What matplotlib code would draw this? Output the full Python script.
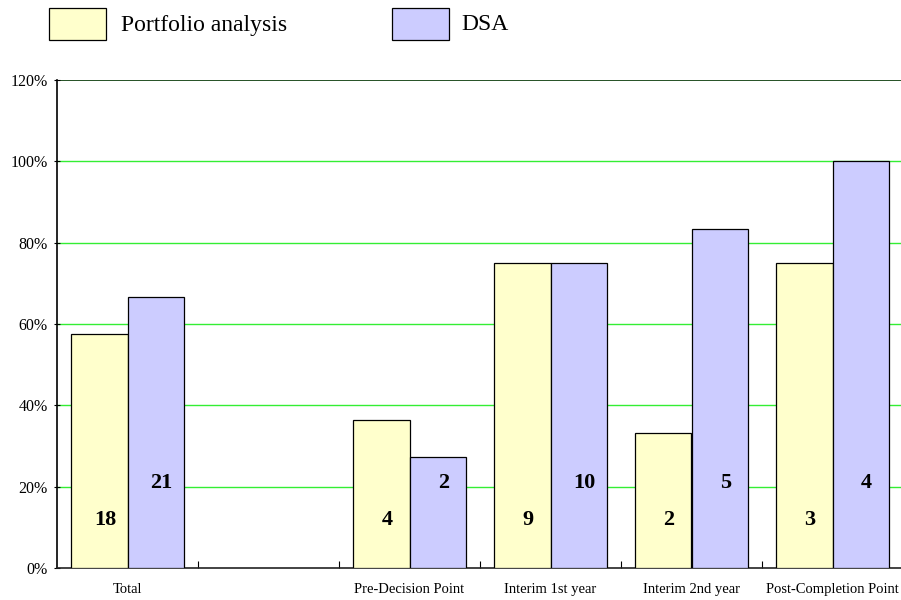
import matplotlib.pyplot as plt
import numpy as np
from matplotlib.patches import Rectangle
from matplotlib.ticker import FixedLocator, FuncFormatter

categories = ["Total", "", "Pre-Decision Point", "Interim 1st year",
              "Interim 2nd year", "Post-Completion Point"]
portfolio = [57.5, np.nan, 36.4, 75.0, 33.3, 75.0]
dsa = [66.7, np.nan, 27.3, 75.0, 83.3, 100.0]
portfolio_n = ["18", "", "4", "9", "2", "3"]
dsa_n = ["21", "", "2", "10", "5", "4"]

plt.rcParams["font.family"] = ["Liberation Serif", "DejaVu Serif"]

yellow = "#ffffcc"
blue = "#ccccff"

fig = plt.figure(figsize=(9.01, 6.0), dpi=100)
ax = fig.add_axes([57 / 901, 32 / 600, 846 / 901, 488 / 600])

x = np.arange(len(categories))
w = 0.4
ax.bar(x - w / 2, portfolio, w, color=yellow, edgecolor="black", linewidth=0.9, zorder=3)
ax.bar(x + w / 2, dsa, w, color=blue, edgecolor="black", linewidth=0.9, zorder=3)

# counts written inside the bars near the base
for i in range(len(categories)):
    if portfolio_n[i]:
        ax.text(x[i] - w / 2 + 0.04, 11.8, portfolio_n[i], ha="center", va="center",
                fontsize=16, fontweight="bold", zorder=4)
    if dsa_n[i]:
        ax.text(x[i] + w / 2 + 0.04, 20.9, dsa_n[i], ha="center", va="center",
                fontsize=16, fontweight="bold", zorder=4)

ax.set_xlim(-0.5, len(categories) - 0.5)
ax.set_ylim(0, 120)

ax.set_yticks(np.arange(0, 121, 20))
ax.yaxis.set_major_formatter(FuncFormatter(lambda v, p: f"{v:.0f}%"))
ax.tick_params(axis="y", direction="inout", length=5, width=0.8, labelsize=11.5, pad=4)

for v in range(20, 101, 20):
    ax.axhline(v, color="#33ee33", linewidth=1.0, zorder=1)
ax.axhline(120, color="#003300", linewidth=1.2, zorder=1)

# boundary ticks between categories, labels centred under each slot
ax.xaxis.set_major_locator(FixedLocator(np.arange(0.5, len(categories) - 0.5, 1)))
ax.xaxis.set_minor_locator(FixedLocator(x))
ax.set_xticklabels([], minor=False)
ax.set_xticklabels(categories, minor=True)
ax.tick_params(axis="x", which="major", direction="in", length=5, width=0.8)
ax.tick_params(axis="x", which="minor", length=0, labelsize=10.5, pad=11)

for side in ["top", "right"]:
    ax.spines[side].set_visible(False)
ax.spines["left"].set_linewidth(1.2)
ax.spines["bottom"].set_linewidth(1.2)
ax.spines["bottom"].set_color("#222222")

# legend drawn as boxes in figure coordinates
for bx, tx, col, label in [(49, 121, yellow, "Portfolio analysis"), (392, 461, blue, "DSA")]:
    fig.patches.append(Rectangle((bx / 901, 1 - 40 / 600), 57 / 901, 32 / 600,
                                 transform=fig.transFigure, facecolor=col,
                                 edgecolor="black", linewidth=0.9))
    fig.text(tx / 901, 1 - 25 / 600, label, fontsize=17, va="center", ha="left")

fig.savefig("out.png", dpi=100)
